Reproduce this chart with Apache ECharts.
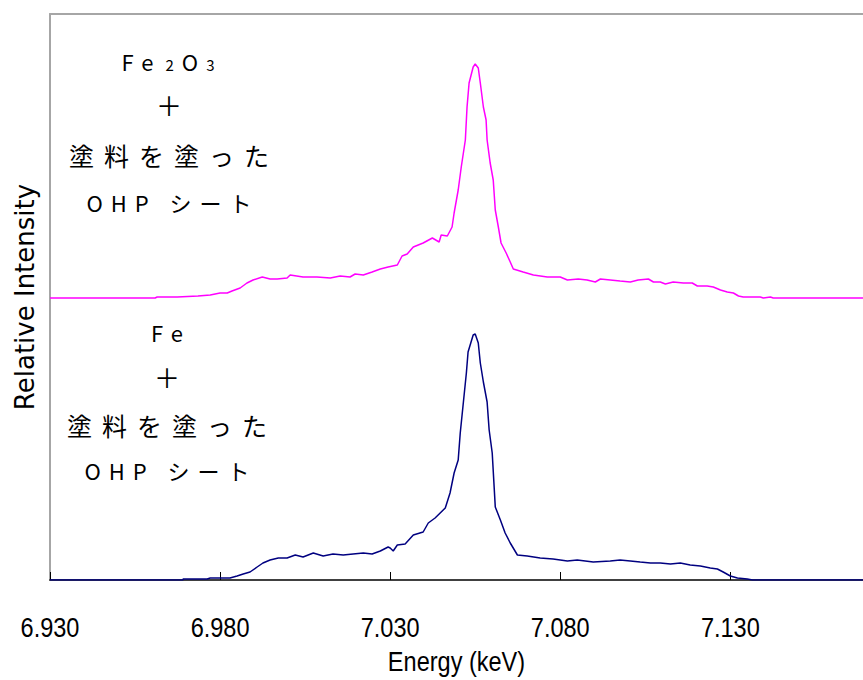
<!DOCTYPE html>
<html>
<head>
<meta charset="utf-8">
<script src="https://cdn.jsdelivr.net/npm/echarts@6/dist/echarts.min.js"></script>
<style>
html, body { margin: 0; padding: 0; background: #ffffff; }
#chart { width: 863px; height: 680px; }
#chart text[style*="CJK"] { letter-spacing: 8px; }
#chart text[style*="CJK"][style*="25px"] { letter-spacing: 10px; }
#chart text[style*="Liberation Sans"] { font-stretch: condensed !important; }
</style>
</head>
<body>
<div id="chart"></div>
<script>
// ---- axis ----
const xMin = 6.930;
const xMax = 7.169;
const xTickValues = [6.930, 6.980, 7.030, 7.080, 7.130];
const yMax = 566;          // arbitrary relative units
const oxOffset = 282;      // vertical offset of the upper (Fe2O3) spectrum

// ---- Fe + coated OHP sheet (lower, navy) ----
const feEnergy = [6.9300, 6.9691, 6.9691, 6.9762, 6.9771, 6.9800, 6.9829, 6.9850, 6.9868, 6.9888,
  6.9909, 6.9926, 6.9947, 6.9971, 6.9997, 7.0021, 7.0044, 7.0074, 7.0103, 7.0132,
  7.0162, 7.0191, 7.0221, 7.0247, 7.0271, 7.0294, 7.0300, 7.0309, 7.0321, 7.0344,
  7.0368, 7.0397, 7.0412, 7.0432, 7.0462, 7.0476, 7.0488, 7.0500, 7.0506, 7.0515,
  7.0524, 7.0529, 7.0544, 7.0550, 7.0559, 7.0565, 7.0574, 7.0585, 7.0591, 7.0600,
  7.0609, 7.0624, 7.0638, 7.0653, 7.0674, 7.0703, 7.0741, 7.0779, 7.0821, 7.0850,
  7.0897, 7.0947, 7.0976, 7.1006, 7.1035, 7.1065, 7.1094, 7.1124, 7.1153, 7.1182,
  7.1212, 7.1241, 7.1262, 7.1279, 7.1300, 7.1321, 7.1350, 7.1365, 7.1691];
const feValues = [0, 0, 1, 1, 2, 2, 2, 4, 6, 8,
  13, 17, 20, 22, 22, 25, 23, 27, 24, 26,
  25, 26, 27, 26, 29, 33, 32, 29, 35, 36,
  45, 48, 57, 62, 72, 87, 107, 120, 147, 177,
  207, 228, 245, 246, 237, 217, 198, 178, 150, 127,
  73, 60, 47, 37, 25, 24, 22, 21, 19, 20,
  18, 19, 20, 19, 18, 17, 17, 16, 17, 15,
  14, 12, 11, 8, 4, 2, 1, 0, 0];

// ---- Fe2O3 + coated OHP sheet (upper, magenta) ----
const oxEnergy = [6.9300, 6.9609, 6.9615, 6.9674, 6.9735, 6.9771, 6.9800, 6.9821, 6.9835, 6.9859,
  6.9879, 6.9897, 6.9924, 6.9947, 6.9968, 6.9997, 7.0006, 7.0044, 7.0085, 7.0124,
  7.0153, 7.0182, 7.0197, 7.0221, 7.0247, 7.0271, 7.0294, 7.0321, 7.0335, 7.0350,
  7.0368, 7.0397, 7.0424, 7.0444, 7.0450, 7.0468, 7.0482, 7.0488, 7.0500, 7.0509,
  7.0521, 7.0526, 7.0532, 7.0544, 7.0550, 7.0559, 7.0565, 7.0574, 7.0582, 7.0585,
  7.0594, 7.0603, 7.0609, 7.0618, 7.0626, 7.0641, 7.0653, 7.0662, 7.0691, 7.0721,
  7.0762, 7.0800, 7.0821, 7.0853, 7.0879, 7.0903, 7.0918, 7.0947, 7.0976, 7.1006,
  7.1029, 7.1059, 7.1074, 7.1094, 7.1109, 7.1132, 7.1162, 7.1188, 7.1203, 7.1232,
  7.1250, 7.1271, 7.1291, 7.1309, 7.1324, 7.1338, 7.1388, 7.1397, 7.1418, 7.1426,
  7.1691];
const oxValues = [0, 0, 1, 1, 2, 3, 5, 5, 7, 10,
  15, 18, 21, 19, 19, 20, 23, 21, 21, 20,
  22, 21, 24, 23, 26, 29, 31, 33, 42, 44,
  51, 55, 60, 56, 63, 62, 71, 85, 108, 131,
  158, 191, 215, 231, 234, 230, 215, 191, 178, 158,
  135, 118, 88, 71, 55, 45, 36, 29, 26, 23,
  21, 21, 18, 19, 18, 16, 19, 18, 17, 16,
  18, 19, 16, 16, 14, 16, 15, 15, 12, 12,
  11, 8, 6, 5, 2, 1, 1, 0, 1, 0,
  0];

// ---- annotation texts ----
const plusText = '＋';
const coatText = '塗料を塗った';
const sheetText = 'OHP シート';
const feText = 'Fe';

const feData = feEnergy.map((e, i) => [e, feValues[i]]);
const oxData = oxEnergy.map((e, i) => [e, oxValues[i] + oxOffset]);

const annFont = "'Noto Sans CJK JP', sans-serif";
const narrowFont = "'Liberation Sans Narrow', 'Liberation Sans', 'DejaVu Sans Condensed', sans-serif";
function annText(x, y, text, size) {
  return {
    type: 'text', x: x, y: y, silent: true,
    style: { text: text, fontFamily: annFont, fontSize: size, fill: '#000',
             align: 'center', verticalAlign: 'middle' }
  };
}

const chart = echarts.init(document.getElementById('chart'), null, { renderer: 'svg' });
chart.setOption({
  animation: false,
  backgroundColor: '#ffffff',
  grid: { left: 50, right: 0, top: 14, bottom: 100, outerBoundsMode: 'none', containLabel: false },
  xAxis: [{
    type: 'value', min: xMin, max: xMax, position: 'bottom',
    name: 'Energy (keV)', nameLocation: 'middle', nameGap: 67,
    nameTextStyle: { fontFamily: narrowFont, fontSize: 28, color: '#000' },
    axisLine: { show: true, onZero: false, lineStyle: { color: '#404040', width: 2 } },
    axisTick: { show: true, inside: true, length: 8, customValues: xTickValues, lineStyle: { color: '#000', width: 1 } },
    axisLabel: { show: true, margin: 33, customValues: xTickValues, color: '#000',
      fontFamily: narrowFont, fontSize: 28,
      formatter: v => Number(v).toFixed(3) },
    splitLine: { show: false }
  }, {
    type: 'value', min: xMin, max: xMax, position: 'top',
    axisLine: { show: true, onZero: false, lineStyle: { color: '#a6a6a6', width: 2 } },
    axisTick: { show: false }, axisLabel: { show: false }, splitLine: { show: false }
  }],
  yAxis: {
    type: 'value', min: 0, max: yMax,
    name: 'Relative Intensity', nameLocation: 'middle', nameGap: 12,
    nameTextStyle: { fontFamily: "'DejaVu Sans', sans-serif", fontSize: 26, color: '#000' },
    axisLine: { show: true, onZero: false, lineStyle: { color: '#a6a6a6', width: 2 } },
    axisTick: { show: false }, axisLabel: { show: false }, splitLine: { show: false }
  },
  series: [{
    name: 'Fe', type: 'line', xAxisIndex: 0, data: feData, showSymbol: false, symbol: 'none',
    lineStyle: { color: '#000080', width: 1.5 }, itemStyle: { color: '#000080' }, z: 3
  }, {
    name: 'Fe2O3', type: 'line', xAxisIndex: 0, data: oxData, showSymbol: false, symbol: 'none',
    lineStyle: { color: '#ff00ff', width: 1.5 }, itemStyle: { color: '#ff00ff' }, z: 3
  }],
  graphic: [
    {
      type: 'text', x: 178, y: 58, silent: true,
      style: {
        text: '{fe|Fe}{s|2}{o|O}{s|3}', fontFamily: annFont, fontSize: 22, fill: '#000',
        align: 'center', verticalAlign: 'middle',
        rich: {
          fe: { fontFamily: annFont, fontSize: 22, lineHeight: 28, padding: [0, 16, 0, 0], verticalAlign: 'bottom', fill: '#000' },
          o:  { fontFamily: annFont, fontSize: 22, lineHeight: 28, padding: [0, 8, 0, 0], verticalAlign: 'bottom', fill: '#000' },
          s:  { fontFamily: annFont, fontSize: 15, lineHeight: 28, padding: [0, 8, 0, 0], verticalAlign: 'bottom', fill: '#000' }
        }
      }
    },
    annText(173, 104, plusText, 26),
    annText(174, 155, coatText, 25),
    annText(173, 202, sheetText, 22),
    annText(171, 332, feText, 22),
    annText(171, 376, plusText, 26),
    annText(172, 425, coatText, 25),
    annText(171, 470, sheetText, 22)
  ]
});

// The reference uses a narrow face for the axis texts; squeeze them horizontally.
function condenseAxisTexts() {
  document.querySelectorAll('#chart svg text').forEach(t => {
    const s = t.textContent;
    if ((/^\d\.\d{3}$/.test(s) || s === 'Energy (keV)') && !t.hasAttribute('lengthAdjust')) {
      const w = t.getComputedTextLength();
      if (w > 0) {
        t.setAttribute('textLength', (w * 0.84).toFixed(1));
        t.setAttribute('lengthAdjust', 'spacingAndGlyphs');
      }
    }
  });
}
chart.on('finished', condenseAxisTexts);
setTimeout(condenseAxisTexts, 30);
setTimeout(condenseAxisTexts, 200);
</script>
</body>
</html>
